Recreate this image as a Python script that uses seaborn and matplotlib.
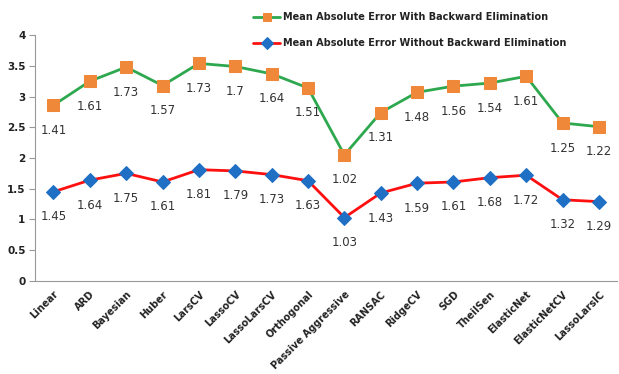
import numpy as np
import pandas as pd
import matplotlib
matplotlib.use("Agg")
import matplotlib.pyplot as plt
import seaborn as sns
from matplotlib.ticker import FixedLocator

categories = ["Linear", "ARD", "Bayesian", "Huber", "LarsCV", "LassoCV", "LassoLarsCV",
              "Orthogonal", "Passive Aggressive", "RANSAC", "RidgeCV", "SGD", "TheilSen",
              "ElasticNet", "ElasticNetCV", "LassoLarsIC"]
without_be = [1.45, 1.64, 1.75, 1.61, 1.81, 1.79, 1.73, 1.63, 1.03, 1.43, 1.59, 1.61,
              1.68, 1.72, 1.32, 1.29]
with_be = [1.41, 1.61, 1.73, 1.57, 1.73, 1.7, 1.64, 1.51, 1.02, 1.31, 1.48, 1.56,
           1.54, 1.61, 1.25, 1.22]
y_ticks = [0, 0.5, 1, 1.5, 2, 2.5, 3, 3.5, 4]
label_with = "Mean Absolute Error With Backward Elimination"
label_without = "Mean Absolute Error Without Backward Elimination"

sns.set_style("white")
plt.rcParams["font.family"] = ["DejaVu Sans"]

df = pd.DataFrame({
    "pos": np.arange(len(categories)),
    "without": without_be,
    "with": with_be,
})
df["stacked"] = df["without"] + df["with"]

fig = plt.figure(figsize=(6.19, 3.74), dpi=100)
ax = fig.add_axes([0.057, 0.249, 0.940, 0.657])

green = "#2EA84F"
orange = "#F0883A"
red = "#FF1010"
blue = "#1F70C4"

sns.lineplot(data=df, x="pos", y="stacked", ax=ax, color=green, lw=2,
             marker="s", markersize=8.5, markerfacecolor=orange, markeredgecolor=orange,
             label=label_with)
sns.lineplot(data=df, x="pos", y="without", ax=ax, color=red, lw=2,
             marker="D", markersize=7.5, markerfacecolor=blue, markeredgecolor=blue,
             label=label_without)

for x, y, v in zip(df["pos"], df["stacked"], df["with"]):
    ax.annotate(f"{v:g}", (x, y), xytext=(0, -18), textcoords="offset points",
                ha="center", va="center", fontsize=8.5, color="#333333")
for x, y, v in zip(df["pos"], df["without"], df["without"]):
    ax.annotate(f"{v:g}", (x, y), xytext=(0, -18), textcoords="offset points",
                ha="center", va="center", fontsize=8.5, color="#333333")

ax.set_xlim(-0.5, len(categories) - 0.5)
ax.set_ylim(0, 4)
ax.set_yticks(y_ticks)
ax.set_yticklabels([f"{t:g}" for t in y_ticks], fontsize=7.5,
                   fontweight="bold", color="#222222")
ax.set_xticks(df["pos"])
ax.set_xticklabels(categories, rotation=45, ha="right", rotation_mode="anchor",
                   fontsize=7, fontweight="bold", color="#222222")
ax.xaxis.set_minor_locator(FixedLocator(np.arange(-0.5, len(categories), 1.0)))
ax.tick_params(axis="x", which="major", length=0, pad=6)
ax.tick_params(axis="x", which="minor", length=5, color="#999999", width=0.8, direction="out")
ax.tick_params(axis="y", which="major", length=4, color="#999999", width=0.8,
               direction="out", left=True, pad=3)
ax.set_xlabel("")
ax.set_ylabel("")
for s in ["top", "right"]:
    ax.spines[s].set_visible(False)
for s in ["left", "bottom"]:
    ax.spines[s].set_color("#999999")
    ax.spines[s].set_linewidth(0.8)
ax.grid(False)

ax.legend_.remove()
h, l = ax.get_legend_handles_labels()
leg = fig.legend(h, l, loc="upper left", bbox_to_anchor=(0.395, 0.99),
                 frameon=False, fontsize=7, handlelength=2.8, handletextpad=0.3,
                 labelspacing=1.6, markerscale=0.75)
for t in leg.get_texts():
    t.set_fontweight("bold")
    t.set_color("#222222")

fig.savefig("out.png", dpi=100)
